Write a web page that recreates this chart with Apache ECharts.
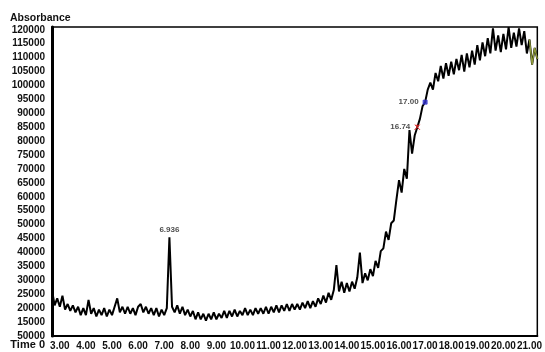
<!DOCTYPE html>
<html>
<head>
<meta charset="utf-8">
<script src="https://cdn.jsdelivr.net/npm/echarts@6/dist/echarts.min.js"></script>
<style>html,body{margin:0;padding:0;background:#fff}#c{width:545px;height:352px}</style>
</head>
<body>
<div id="c"></div>
<script>
// time axis: 2.7 .. 21.3 minutes, step 0.1
const startTime = 2.7;
const timeStep = 0.1;
const absorbance = [
26500,21000,23500,20500,24500,19500,21500,19000,21000,18500,
20500,17500,20000,17500,23000,18000,20000,17000,19500,17500,
20000,17000,19500,17500,20500,23500,18500,20500,18000,20500,
18000,20000,17500,20500,21500,18500,20500,18000,20000,17500,
20000,17000,19500,17500,20000,45500,20500,18500,21000,18000,
20500,17500,19500,17000,19000,16000,18500,16000,18000,15500,
18000,16000,18500,16000,18000,16500,19000,16500,19000,17000,
19500,17000,19000,17500,20000,17500,19500,17500,20000,18000,
20000,18000,20500,18000,20500,18500,21000,18500,21000,19000,
21500,19000,21500,19500,21500,19500,22000,20000,22500,20000,
22500,20500,23500,21500,24500,22000,25500,23000,26500,35500,
26000,29500,25500,29000,26000,29500,27000,31000,40000,29000,
32500,30000,34000,31500,37000,34500,40500,41500,47500,44500,
50500,51500,59000,66000,61500,70000,66500,84000,75500,82000,
85000,88000,92500,94000,98500,101000,98500,104500,101500,107000,
102500,108000,103500,108500,104000,109500,105500,111000,105000,111500,
106500,112500,107500,114500,109000,115500,110500,117000,111500,120500,
112500,118000,112000,118500,113000,121000,113500,119000,114000,120500,
114500,119500,111500,116500,107500,113500,109500
];
const xTickLabels = ['3.00','4.00','5.00','6.00','7.00','8.00','9.00','10.00','11.00','12.00','13.00','14.00','15.00','16.00','17.00','18.00','19.00','20.00','21.00'];
const yAxisMin = 10000, yAxisMax = 121000, yAxisStep = 5000;
const annotTimes = [7.2, 16.7, 17.0];
const annotValues = [45500, 85000, 94000];
const annotLabels = ['6.936', '16.74', '17.00'];
const tailStartIndex = 183;

const seriesData = absorbance.map((v, i) => [+(startTime + i * timeStep).toFixed(2), v]);
const tailData = seriesData.slice(tailStartIndex);

const annotStyles = [
  {symbol: 'circle', size: 1, pos: 'top', color: 'rgba(0,0,0,0)'},
  {symbol: 'path://M0,0L10,10L5,5L0,10L10,0', size: 5, pos: 'left', color: '#d22'},
  {symbol: 'rect', size: 4, pos: 'left', color: '#33c'}
];
const annotData = annotTimes.map((t, i) => ({
  value: [t, annotValues[i]],
  name: annotLabels[i],
  symbol: annotStyles[i].symbol,
  symbolSize: annotStyles[i].size,
  itemStyle: {color: annotStyles[i].color, borderColor: annotStyles[i].color, borderWidth: 1},
  label: {show: true, position: annotStyles[i].pos, distance: i === 0 ? 2 : 4, formatter: annotLabels[i]}
}));

const chart = echarts.init(document.getElementById('c'), null, {renderer: 'canvas'});
chart.setOption({
  animation: false,
  backgroundColor: '#fff',
  grid: {left: 52, right: 4, top: 27, bottom: 16, show: true, borderColor: '#000', borderWidth: 1.5, containLabel: false},
  xAxis: {
    type: 'value', min: 2.7, max: 21.3,
    axisLine: {show: true, lineStyle: {color: '#000', width: 2}},
    axisTick: {show: false},
    splitLine: {show: false},
    axisLabel: {
      customValues: xTickLabels.map(s => parseFloat(s)),
      formatter: v => v.toFixed(2),
      color: '#111', fontWeight: 'bold', fontSize: 10, fontFamily: 'Liberation Sans, Arial, sans-serif', margin: 5
    }
  },
  yAxis: {
    type: 'value', min: yAxisMin, max: yAxisMax, interval: yAxisStep,
    axisLine: {show: true, lineStyle: {color: '#000', width: 3}},
    axisTick: {show: false},
    splitLine: {show: false},
    axisLabel: {
      formatter: v => (v % yAxisStep !== 0 ? '' : (v === yAxisMin ? '50000' : String(v))),
      color: '#111', fontWeight: 'bold', fontSize: 10, fontFamily: 'Liberation Sans, Arial, sans-serif', margin: 7
    }
  },
  graphic: [
    {type: 'text', left: 10, top: 13, style: {text: 'Absorbance', fill: '#111', font: 'bold 10.5px "Liberation Sans", Arial, sans-serif'}},
    {type: 'text', right: 500, top: 339, style: {text: 'Time 0', fill: '#111', font: 'bold 11px "Liberation Sans", Arial, sans-serif'}}
  ],
  series: [
    {type: 'line', data: seriesData, showSymbol: false, lineStyle: {color: '#000', width: 2}, z: 2},
    {type: 'line', data: tailData, showSymbol: false, lineStyle: {color: '#8f9a3a', width: 1.4}, z: 3},
    {type: 'scatter', data: annotData, z: 4,
     label: {color: '#222', fontSize: 8, fontWeight: 'bold', fontFamily: 'Liberation Sans, Arial, sans-serif'}}
  ]
});
</script>
</body>
</html>
